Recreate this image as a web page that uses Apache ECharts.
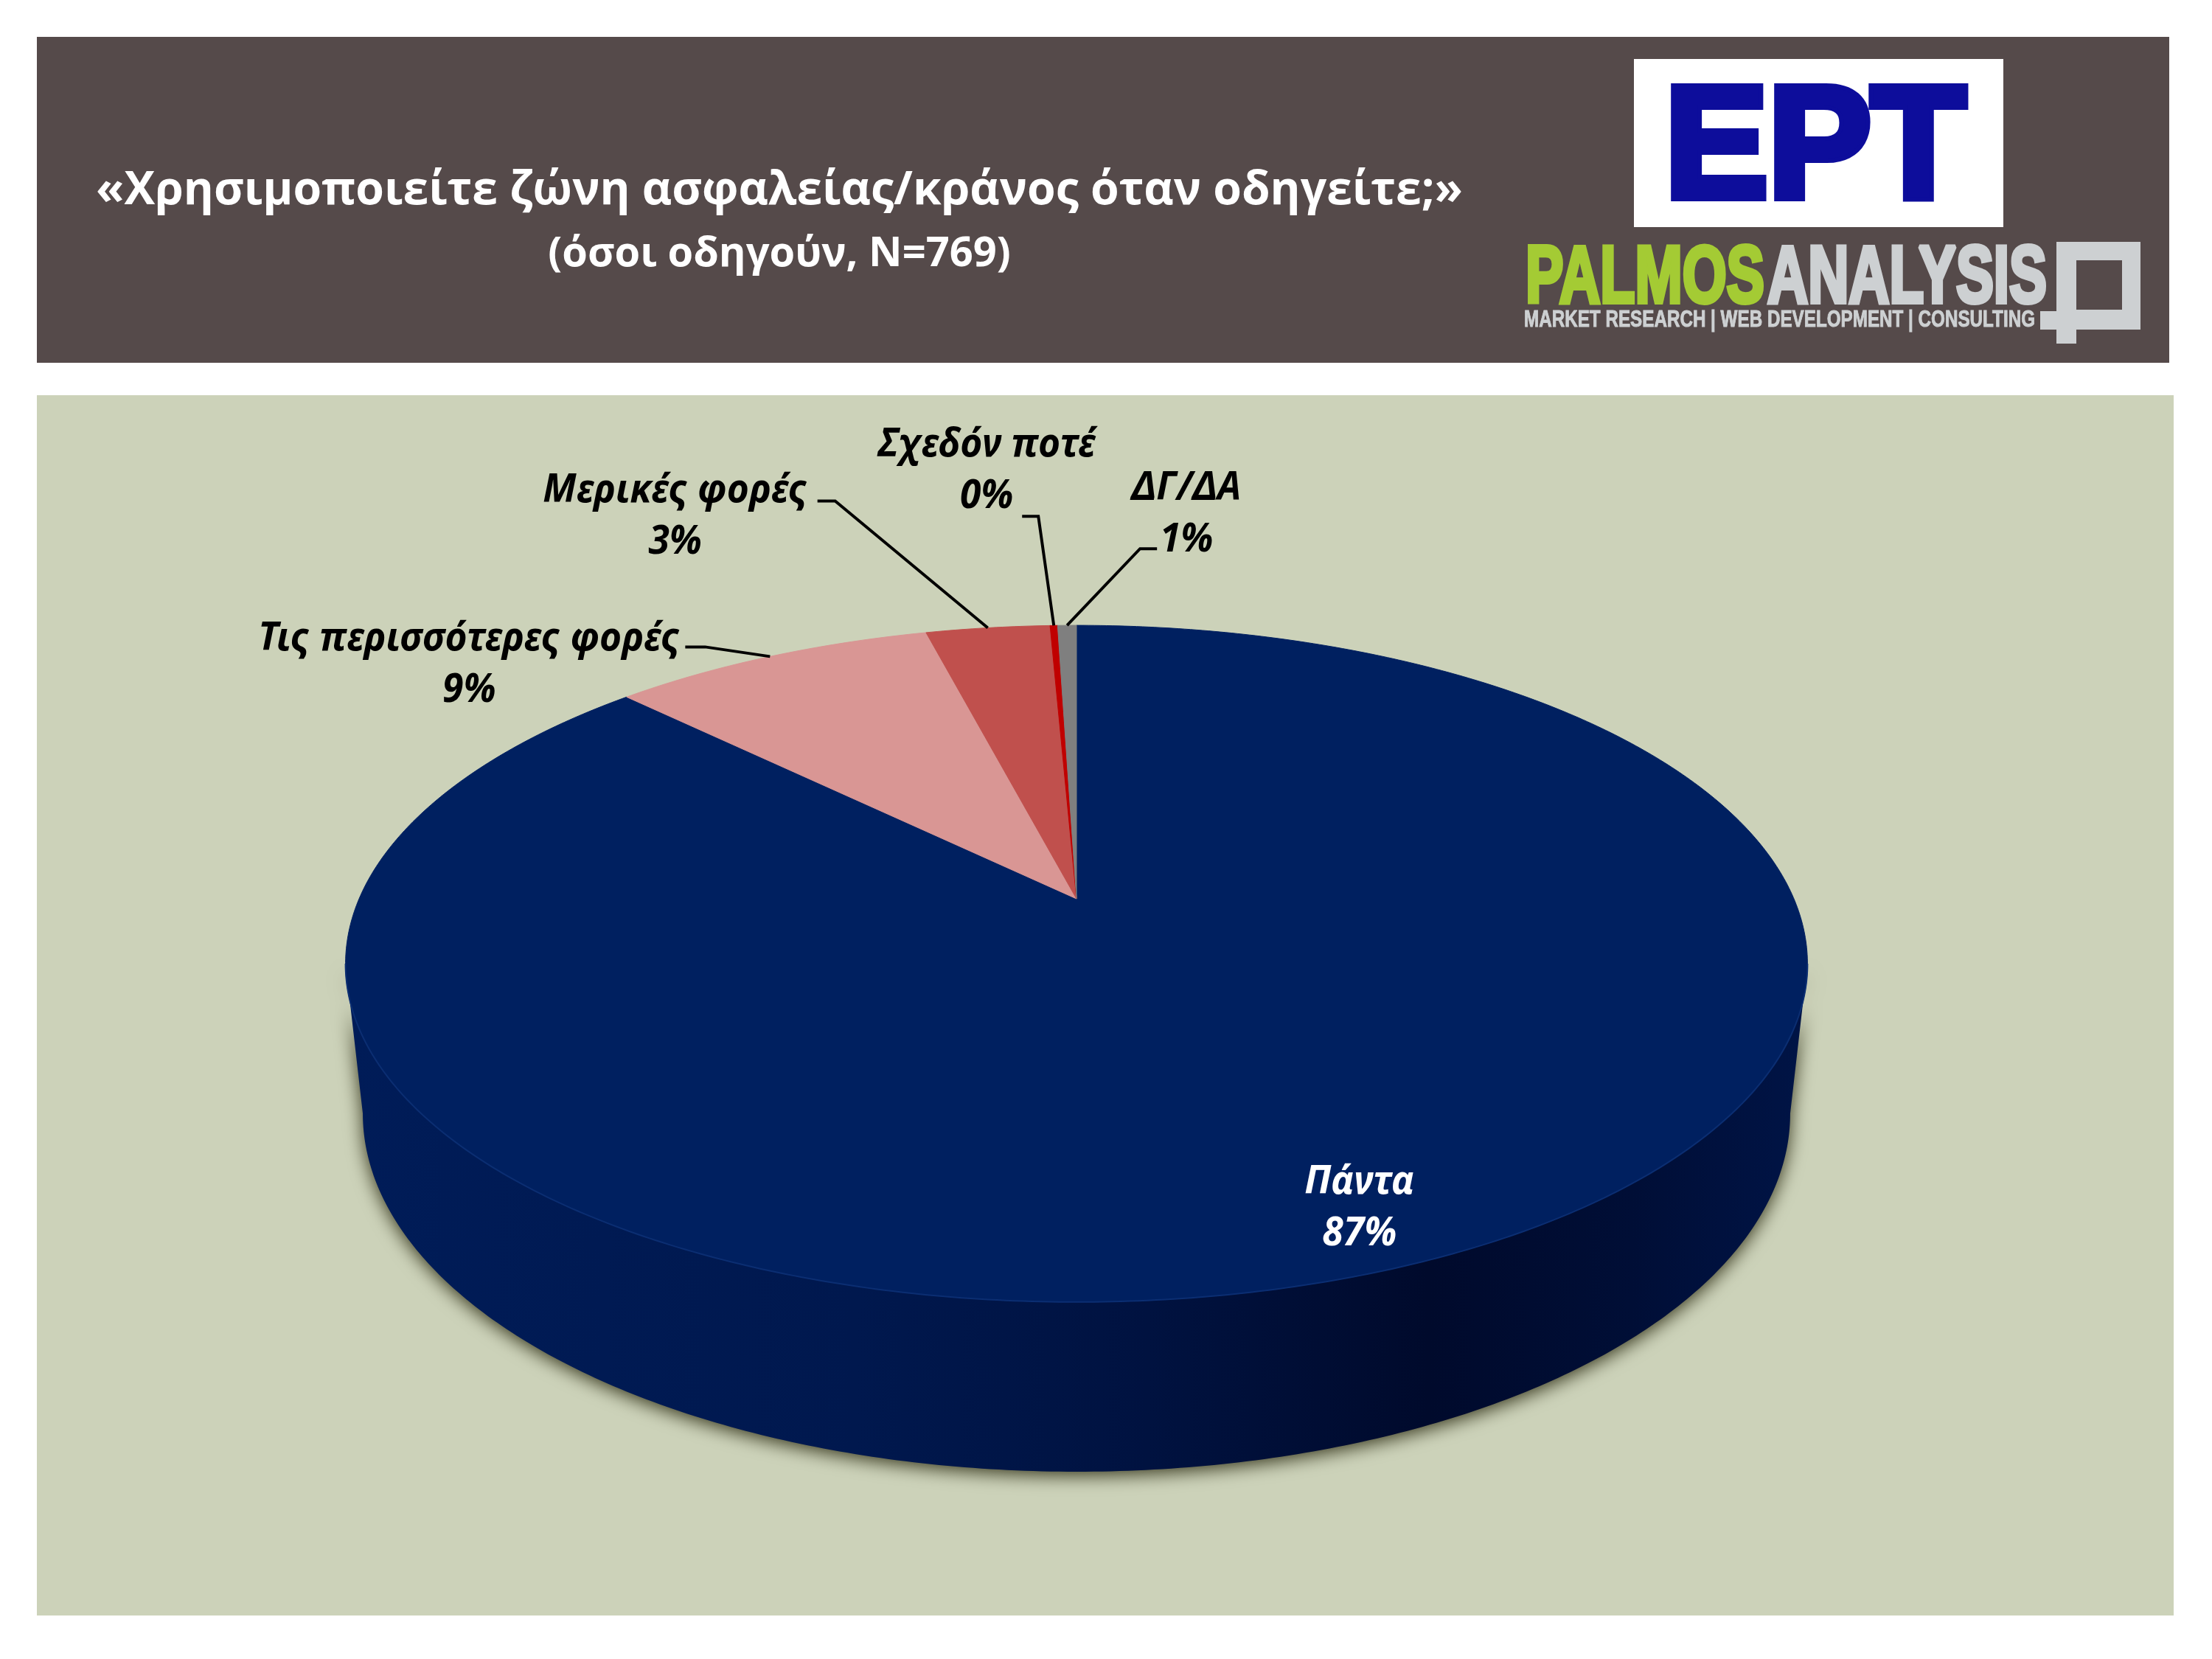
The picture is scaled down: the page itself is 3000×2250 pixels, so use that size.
<!DOCTYPE html>
<html><head><meta charset="utf-8">
<style>html,body{margin:0;padding:0;background:#fff}#c{width:3000px;height:2250px}</style>
<script src="https://cdn.jsdelivr.net/npm/echarts@6/dist/echarts.min.js"></script>
</head><body><div id="c"></div>
<script>
// ---- data ----
const categories = ['Πάντα','Τις περισσότερες φορές','Μερικές φορές','Σχεδόν ποτέ','ΔΓ/ΔΑ'];
const values = [87.4, 8.6, 3.3, 0.2, 0.5];
const valueLabels = ['87%','9%','3%','0%','1%'];
const titleText = '«Χρησιμοποιείτε ζώνη ασφαλείας/κράνος όταν οδηγείτε;»';
const subtitleText = '(όσοι οδηγούν, N=769)';

// ---- styles / layout ----
const colors = ['#002060','#D99694','#C0504D','#C00000','#7F7F7F'];
const labelFont = 'italic bold 54px "Noto Sans"';
const apex = {x:1460,y:1219}, rim = {a:973,b:442,k:0.1917};
const baseRim = {x:1460,y:1417,a:950,b:468,k:0.1917};
// leader: elbow and text-end offsets from the slice's rim midpoint; label: centre offset from it
const leaders = [null,
  {elbow:[-88,-13],end:[-115,-13]},
  {elbow:[-207,-172],end:[-231,-172]},
  {elbow:[-21,-148],end:[-43,-148]},
  {elbow:[99,-104],end:[122,-104]}];
const labelOffsets = [[-72,-111],[-408,-24],[-424,-186],[-91,-245],[162,-186]];
const labelColors = ['#fff','#000','#000','#000','#000'];
const lineGap = 70;

const total = values.reduce((a,b)=>a+b,0);
const mc = document.createElement('canvas').getContext('2d');
function fit(text,font,w){mc.font=font;return w/mc.measureText(text).width;}
const labelScale = fit(categories[1],labelFont,572);

function proj(theta,g,o){ // theta clockwise from the back of the disc
  const w = 1+g.k*Math.cos(theta);
  return [o.x+g.a*Math.sin(theta)/w, o.y-g.b*Math.cos(theta)/w];
}
function arc(t0,t1,g,o){
  const n=Math.max(2,Math.ceil(Math.abs(t1-t0)/0.01)),pts=[];
  for(let i=0;i<=n;i++)pts.push(proj(t0+(t1-t0)*i/n,g,o));
  return pts;
}
function renderSlice(params,api){
  const i=params.dataIndex, v=api.value(0);
  let before=0; for(let j=0;j<i;j++) before+=values[j];
  const t0=before/total*2*Math.PI, t1=(before+v)/total*2*Math.PI, mid=(t0+t1)/2;
  const kids=[];
  // visible front wall between the silhouette tangents
  const tA=Math.acos(-rim.k), tB=2*Math.PI-tA;
  const f0=Math.max(t0,tA), f1=Math.min(t1,tB);
  if(f1>f0){
    kids.push({type:'polygon',shape:{points:arc(f0,f1,rim,apex).concat(arc(f1,f0,baseRim,baseRim))},
      style:{fill:new echarts.graphic.LinearGradient(0,0,1,0,[
        {offset:0,color:'#001C58'},{offset:.35,color:'#00184E'},{offset:.55,color:'#001240'},
        {offset:.74,color:'#000A2C'},{offset:.88,color:'#000E36'},{offset:1,color:'#001446'}]),
        shadowBlur:24,shadowColor:'rgba(40,40,15,.9)',shadowOffsetY:5}});
  }
  // top surface
  kids.push({type:'polygon',shape:{points:[[apex.x,apex.y]].concat(arc(t0,t1,rim,apex))},
    style:{fill:colors[i],stroke:colors[i],lineWidth:1}});
  if(f1>f0){
    kids.push({type:'polyline',shape:{points:arc(f0,f1,rim,apex)},style:{fill:null,stroke:'#0B2E72',lineWidth:2}});
  }
  const a=proj(mid,rim,apex);
  if(leaders[i]){
    const l=leaders[i];
    kids.push({type:'polyline',shape:{points:[[a[0]+l.end[0],a[1]+l.end[1]],[a[0]+l.elbow[0],a[1]+l.elbow[1]],a]},
      style:{fill:null,stroke:'#000',lineWidth:4}});
  }
  const lx=a[0]+labelOffsets[i][0], ly=a[1]+labelOffsets[i][1];
  [[categories[i],ly],[valueLabels[i],ly+lineGap]].forEach(([t,y])=>{
    kids.push({type:'text',x:lx,y:y,scaleX:labelScale,
      style:{text:t,x:0,y:0,fill:labelColors[i],font:labelFont,textAlign:'center',textVerticalAlign:'middle',align:'center',verticalAlign:'middle'}});
  });
  return {type:'group',children:kids};
}

function logoText(t,x,y,font,fill,w,sw){
  return {type:'text',x:x,y:y,scaleX:fit(t,font,w),z:3,
    style:{text:t,x:0,y:0,font:font,fill:fill,stroke:sw?fill:null,lineWidth:sw||0,textAlign:'left',textVerticalAlign:'middle',align:'left',verticalAlign:'middle'}};
}
function rect(x,y,w,h,fill,z){return {type:'rect',z:z,shape:{x:x,y:y,width:w,height:h},style:{fill:fill}};}
const logoGrey='#CDD0D2', logoGreen='#A4CB34', logoBlue='#0D0D9B', band='#554A4A';
const heavy='bold 215px "Liberation Sans"', narrow='bold 110px "Liberation Sans Narrow","Liberation Sans"', tag='bold 32px "Liberation Sans Narrow","Liberation Sans"';

const chart=echarts.init(document.getElementById('c'),null,{renderer:'canvas',width:3000,height:2250});
chart.setOption({
  animation:false,
  backgroundColor:'#fff',
  title:{text:titleText,subtext:subtitleText,left:1052,top:216,textAlign:'center',itemGap:14,
    textStyle:{color:'#fff',fontFamily:'Open Sans',fontWeight:700,fontSize:62.5,lineHeight:76},
    subtextStyle:{color:'#fff',fontFamily:'Open Sans',fontWeight:700,fontSize:56,lineHeight:68}},
  graphic:{elements:[
    rect(50,50,2892,442,band,-2),
    rect(50,536,2898,1655,'#CCD2B9',-2),
    rect(2216,80,501,228,'#fff',2),
    logoText('ΕΡΤ',2258,208,heavy,logoBlue,408,12),
    logoText('PALMOS',2069,380,narrow,logoGreen,324,6),
    logoText('ANALYSIS',2397,380,narrow,logoGrey,379,6),
    logoText('MARKET RESEARCH | WEB DEVELOPMENT | CONSULTING',2067,434,tag,logoGrey,693,1),
    rect(2789,328,114,25,logoGrey,3),
    rect(2878,328,25,119,logoGrey,3),
    rect(2789,420,114,27,logoGrey,3),
    rect(2789,328,27,138,logoGrey,3),
    rect(2767,422,22,25,logoGrey,3)
  ]},
  series:[{type:'custom',coordinateSystem:'none',renderItem:renderSlice,clip:false,silent:true,z:2,
    data:values.map((v,i)=>({name:categories[i],value:[v]}))}]
});
</script></body></html>
